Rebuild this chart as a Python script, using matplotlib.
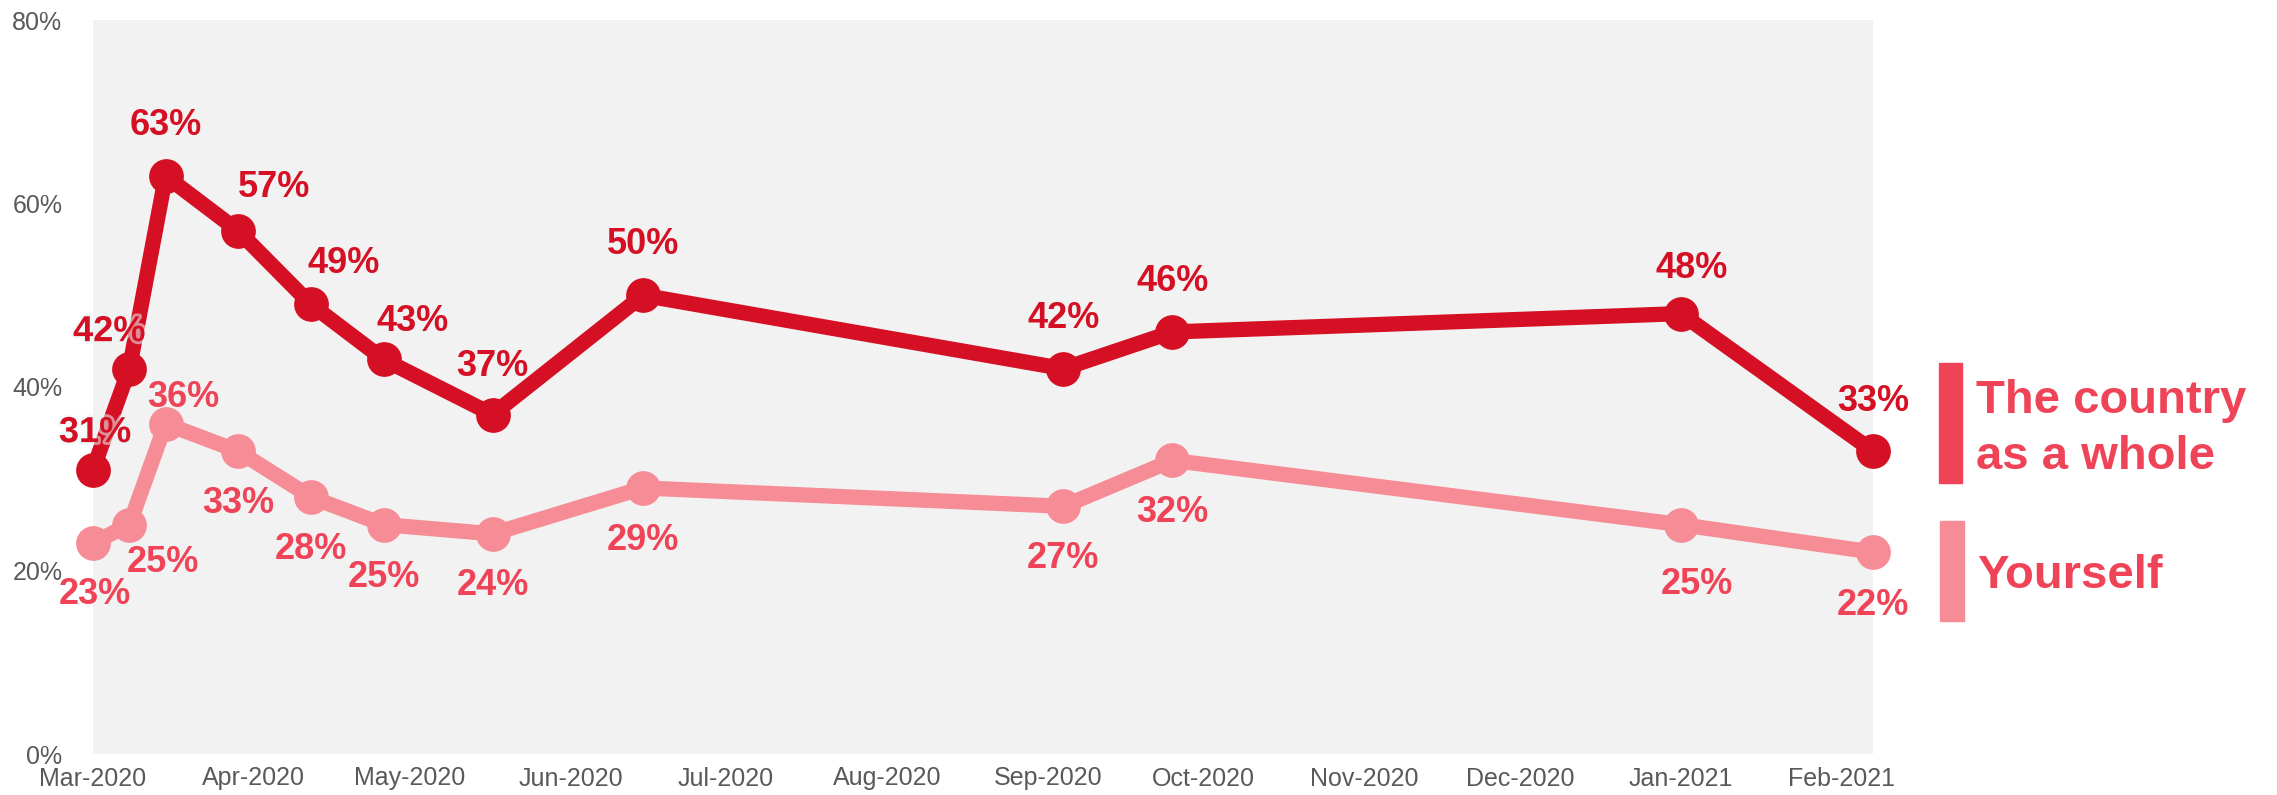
import datetime as dt
import matplotlib
matplotlib.use('Agg')
import matplotlib.pyplot as plt
import matplotlib.dates as mdates
import matplotlib.patheffects as pe
from matplotlib.patches import Rectangle

plt.rcParams['font.family'] = ['Liberation Sans', 'DejaVu Sans']

# survey dates
dates = [dt.date(2020, 3, 1), dt.date(2020, 3, 8), dt.date(2020, 3, 15),
         dt.date(2020, 3, 29), dt.date(2020, 4, 12), dt.date(2020, 4, 26),
         dt.date(2020, 5, 17), dt.date(2020, 6, 15), dt.date(2020, 9, 4),
         dt.date(2020, 9, 25), dt.date(2021, 1, 1), dt.date(2021, 2, 7)]

# share of people worried (%)
country = [31, 42, 63, 57, 49, 43, 37, 50, 42, 46, 48, 33]
yourself = [23, 25, 36, 33, 28, 25, 24, 29, 27, 32, 25, 22]

series_names = ['The country\nas a whole', 'Yourself']
y_ticks = [0, 20, 40, 60, 80]

# colours
c_country = '#D51024'
c_yourself = '#F68D96'
c_label_light = '#EF4458'
c_tick = '#595959'

# label nudges in pixels (dx, dy; dy positive = downwards)
country_off = [(2, -37), (-20, -37), (0, -50), (36, -44), (33, -41), (29, -38),
               (0, -48), (0, -51), (0, -50), (0, -50), (11, -45), (0, -50)]
yourself_off = [(2, 52), (34, 38), (18, -26), (0, 52), (0, 52), (0, 53),
                (0, 52), (0, 53), (0, 52), (0, 52), (16, 60), (0, 53)]

W, H = 2277, 795
fig = plt.figure(figsize=(W / 100, H / 100), dpi=100)
ax = fig.add_axes([93 / W, 1 - 754 / H, (1873 - 93) / W, (754 - 20) / H])
ax.set_facecolor('#F2F2F2')

ax.plot(dates, yourself, color=c_yourself, lw=11, marker='o', ms=24,
        solid_joinstyle='round', zorder=3, clip_on=False)
ax.plot(dates, country, color=c_country, lw=11, marker='o', ms=24,
        solid_joinstyle='round', zorder=4, clip_on=False)

# soft glow seen on the first two labels
glow = [pe.withStroke(linewidth=4, foreground='#e8f6f6', alpha=0.55)]
for i, (d, v) in enumerate(zip(dates, country)):
    dx, dy = country_off[i]
    ax.annotate(f'{v}%', (mdates.date2num(d), v), xytext=(dx, -dy),
                textcoords='offset pixels', ha='center', va='center',
                fontsize=26, fontweight='bold', color=c_country, zorder=6,
                path_effects=glow if i < 2 else None)
for i, (d, v) in enumerate(zip(dates, yourself)):
    dx, dy = yourself_off[i]
    ax.annotate(f'{v}%', (mdates.date2num(d), v), xytext=(dx, -dy),
                textcoords='offset pixels', ha='center', va='center',
                fontsize=26, fontweight='bold', color=c_label_light, zorder=5)

ax.set_xlim(dates[0], dates[-1])
ax.set_ylim(0, 80)
ax.set_yticks(y_ticks)
ax.set_yticklabels([f'{t}%' for t in y_ticks])
ax.xaxis.set_major_locator(mdates.MonthLocator())
ax.xaxis.set_major_formatter(mdates.DateFormatter('%b-%Y'))
ax.tick_params(axis='both', length=0, colors=c_tick, labelsize=18)
ax.tick_params(axis='y', pad=22)
ax.tick_params(axis='x', pad=9)
for s in ax.spines.values():
    s.set_visible(False)

# legend drawn as coloured bars + text
fig.patches.append(Rectangle((1939 / W, 1 - 483 / H), 23 / W, 120 / H,
                             transform=fig.transFigure, color=c_label_light))
fig.patches.append(Rectangle((1940 / W, 1 - 621 / H), 24 / W, 100 / H,
                             transform=fig.transFigure, color=c_yourself))
name1, name2 = series_names[0].split('\n')
fig.text(1976 / W, 1 - 413 / H, name1, fontsize=34, fontweight='bold',
         color=c_label_light, va='baseline')
fig.text(1976 / W, 1 - 469 / H, name2, fontsize=34, fontweight='bold',
         color=c_label_light, va='baseline')
fig.text(1977 / W, 1 - 588 / H, series_names[1], fontsize=34, fontweight='bold',
         color=c_label_light, va='baseline')

fig.savefig('out.png', dpi=100)
